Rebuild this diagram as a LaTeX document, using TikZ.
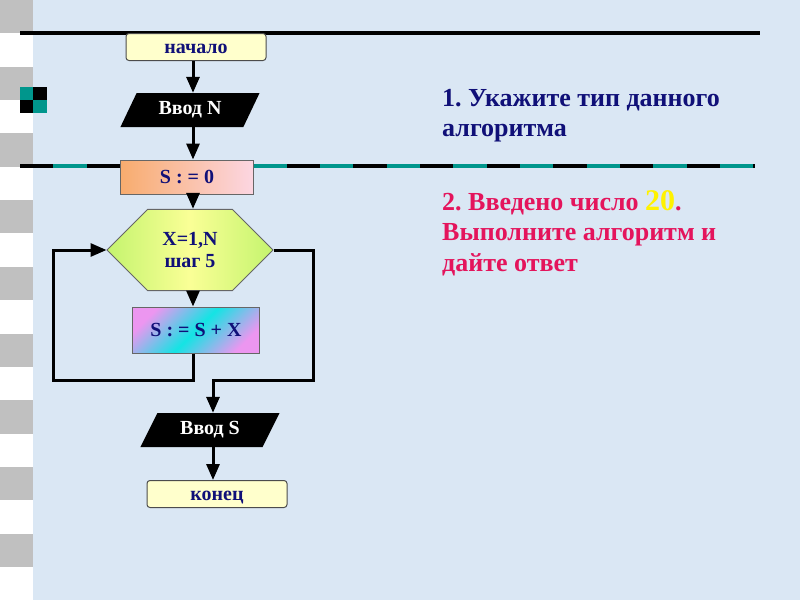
\documentclass[tikz,border=0pt]{standalone}
\usepackage{fontspec}
\setmainfont{Liberation Serif}
\usetikzlibrary{shapes.geometric,shapes.misc,arrows.meta,positioning}

\definecolor{bgblue}{RGB}{218,231,244}
\definecolor{stripgray}{RGB}{192,192,192}
\definecolor{darkteal}{RGB}{0,150,140}
\definecolor{navytext}{RGB}{16,16,120}
\definecolor{termfill}{RGB}{255,255,204}
\definecolor{initorange}{RGB}{248,172,110}
\definecolor{initpink}{RGB}{252,214,226}
\definecolor{hexgreen}{RGB}{196,244,110}
\definecolor{hexyellow}{RGB}{250,255,150}
\definecolor{bodycyan}{RGB}{20,228,228}
\definecolor{bodypink}{RGB}{236,150,240}
\definecolor{taskred}{RGB}{228,20,92}

\frenchspacing
\tikzset{
    boxfont/.style={font=\fontsize{20}{22}\selectfont\bfseries},
    term/.style={draw=black!70, line width=1pt, rounded corners=3pt, fill=termfill,
        minimum width=140, minimum height=27, inner sep=0pt, text height=13pt, text depth=0pt,
        text=navytext, boxfont},
    iobox/.style={trapezium, trapezium left angle=60, trapezium right angle=120,
        trapezium stretches=true, fill=black, text=white, minimum width=140,
        minimum height=34, inner sep=0pt, boxfont},
    procbox/.style={draw=black!60, line width=1pt, minimum height=34, inner sep=0pt, text=navytext, boxfont},
    loopbox/.style={chamfered rectangle, chamfered rectangle xsep=33, chamfered rectangle ysep=23,
        draw=black!60, line width=1pt, minimum width=166, minimum height=46, inner sep=0pt,
        text=navytext, align=center, font=\fontsize{20}{22}\selectfont\bfseries},
    flow/.style={line width=3pt, -{Triangle[length=16pt, width=13pt]}},
    task/.style={anchor=north west, inner sep=0pt, align=left, font=\fontsize{26}{30.5}\selectfont\bfseries}
}

\begin{document}
\begin{tikzpicture}[x=1pt, y=-1pt]
    \useasboundingbox (0,0) rectangle (800,600);
    \fill[bgblue] (33,0) rectangle (800,600);
    \fill[white] (0,0) rectangle (33,600);
    \foreach \y in {0,66.7,...,560}
        \fill[stripgray] (0,\y) rectangle (33,\y+33.3);

    \draw[line width=3.5pt] (20,33) -- (760,33);
    \draw[line width=4pt] (20,166) -- (755,166);
    \draw[line width=4pt, darkteal, dash pattern=on 33.33pt off 33.33pt, dash phase=33.33pt] (20,166) -- (755,166);

    \fill[darkteal] (20,87) rectangle (33,100);
    \fill[black] (33,87) rectangle (47,100);
    \fill[black] (20,100) rectangle (33,113);
    \fill[darkteal] (33,100) rectangle (47,113);

    \node[term] (start) at (196,47) {начало};
    \node[iobox] (inN) at (190,110) {Ввод N};
    \node[procbox, minimum width=133, left color=initorange, right color=initpink] (init) at (187,177) {S : = 0};
    \node[loopbox, left color=hexgreen, right color=hexgreen, middle color=hexyellow] (loop) at (190,250) {X=1,N\\шаг 5};
    \node[procbox, minimum width=127, minimum height=46, top color=bodypink, bottom color=bodypink,
        middle color=bodycyan, shading angle=45] (body) at (196,330) {S : = S + X};
    \node[iobox] (outS) at (210,430) {Ввод S};
    \node[term] (stop) at (217,494) {конец};

    \coordinate (back) at (53,380);
    \coordinate (exit) at (313,380);

    \draw[flow] (start.south -| 193,0) -- (inN.north -| 193,0);
    \draw[flow] (inN.south -| 193,0) -- (init.north -| 193,0);
    \draw[flow] (init.south -| 193,0) -- (loop.north -| 193,0);
    \draw[flow] (loop.south -| 193,0) -- (body.north -| 193,0);
    \draw[flow] (body.south -| 193,0) |- (back) |- (loop.west);
    \draw[flow] (loop.east) -| (exit) -| (outS.north -| 213,0);
    \draw[flow] (outS.south -| 213,0) -- (stop.north -| 213,0);

    \node[task, text=navytext] (q1) at (442,89) {1. Укажите тип данного\\алгоритма};
    \node[task, text=taskred] (q2) at (442,190) {2. Введено число {\color{yellow}\fontsize{30}{30.5}\selectfont 20}.\\Выполните алгоритм и\\дайте ответ};
\end{tikzpicture}
\end{document}
